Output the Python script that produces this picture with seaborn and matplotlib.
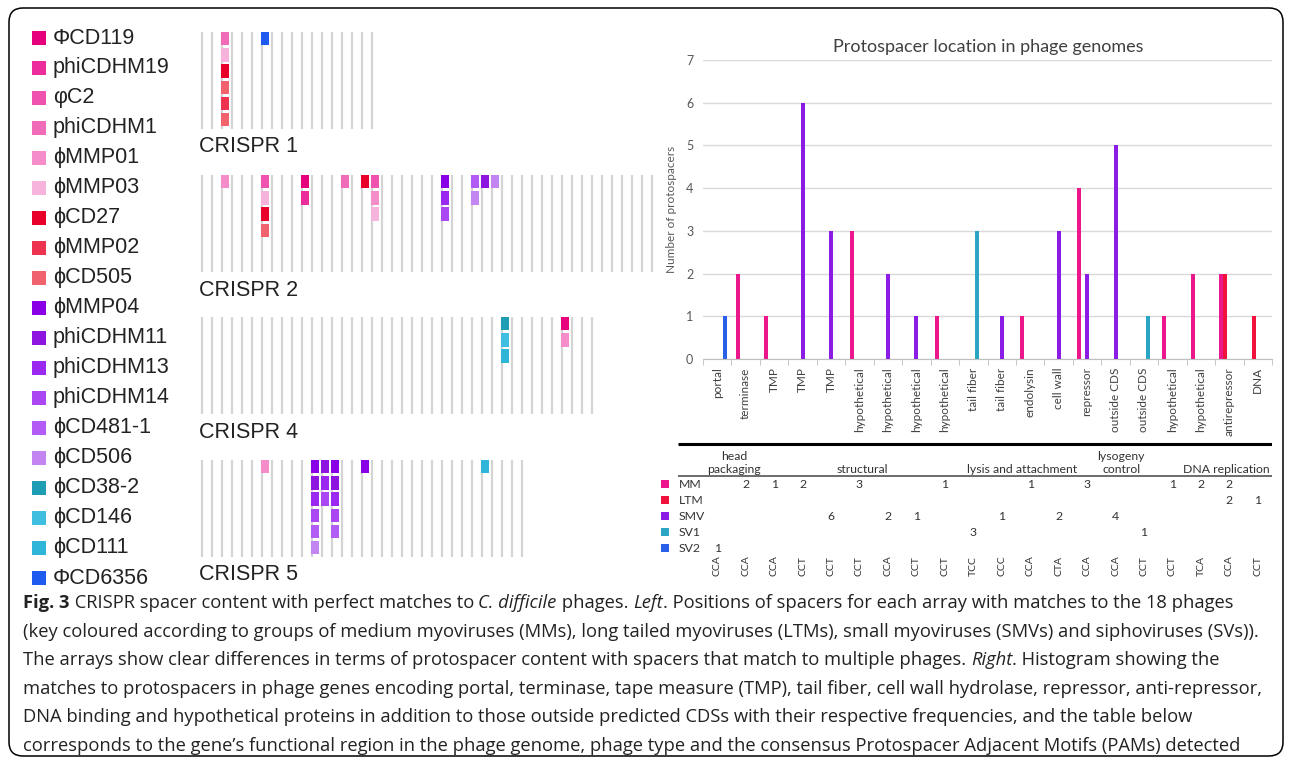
import numpy as np
import pandas as pd
import matplotlib
matplotlib.use("Agg")
import matplotlib.pyplot as plt
from matplotlib.patches import Rectangle, FancyBboxPatch
import seaborn as sns

# key: phages coloured by group (MM pinks, LTM reds, SMV purples, SV blues)
PHAGES = ["ΦCD119", "phiCDHM19", "φC2", "phiCDHM1", "ϕMMP01", "ϕMMP03", "ϕCD27",
          "ϕMMP02", "ϕCD505", "ϕMMP04", "phiCDHM11", "phiCDHM13", "phiCDHM14",
          "ϕCD481-1", "ϕCD506", "ϕCD38-2", "ϕCD146", "ϕCD111", "ΦCD6356"]
PHAGE_COLORS = ["#E6007E", "#EC2C9A", "#F052B0", "#F06BB8", "#F58DCB", "#F6B3DC", "#E8002A",
                "#EE3350", "#F0636E", "#8A00E6", "#8E14E0", "#9A28F0", "#AA46F2",
                "#B35CF5", "#C385F2", "#1E9DB5", "#3FBEDF", "#2FB5D8", "#1F5BEF"]

# CRISPR arrays: number of spacers, and matched spacers (index -> phages, top to bottom)
CRISPR_NAMES = ["CRISPR 1", "CRISPR 2", "CRISPR 4", "CRISPR 5"]
CRISPR_SPACERS = [18, 46, 40, 33]
CRISPR1_HITS = {2: ["phiCDHM1", "ϕMMP03", "ϕCD27", "ϕCD505", "ϕMMP02", "ϕCD505"],
                6: ["ΦCD6356"]}
CRISPR2_HITS = {2: ["ϕMMP01"],
                6: ["φC2", "ϕMMP03", "ϕCD27", "ϕCD505"],
                10: ["ΦCD119", "phiCDHM19"],
                14: ["phiCDHM1"],
                16: ["ϕCD27"],
                17: ["φC2", "ϕMMP01", "ϕMMP03"],
                24: ["ϕMMP04", "phiCDHM13", "phiCDHM14"],
                27: ["ϕCD481-1", "ϕCD506"],
                28: ["phiCDHM11"],
                29: ["ϕCD506"]}
CRISPR4_HITS = {30: ["ϕCD38-2", "ϕCD146", "ϕCD111"],
                36: ["ΦCD119", "ϕMMP01"]}
CRISPR5_HITS = {6: ["ϕMMP01"],
                11: ["ϕMMP04", "phiCDHM11", "phiCDHM13", "phiCDHM14", "ϕCD481-1", "ϕCD506"],
                12: ["phiCDHM11", "phiCDHM13", "phiCDHM14"],
                13: ["ϕMMP04", "phiCDHM11", "phiCDHM13", "phiCDHM14", "ϕCD481-1"],
                16: ["ϕMMP04"],
                28: ["ϕCD111"]}
CRISPR_HITS = [CRISPR1_HITS, CRISPR2_HITS, CRISPR4_HITS, CRISPR5_HITS]

# histogram of protospacer locations
GENES = ["portal", "terminase", "TMP", "TMP", "TMP", "hypothetical", "hypothetical",
         "hypothetical", "hypothetical", "tail fiber", "tail fiber", "endolysin", "cell wall",
         "repressor", "outside CDS", "outside CDS", "hypothetical", "hypothetical",
         "antirepressor", "DNA"]
GROUPS = ["MM", "LTM", "SMV", "SV1", "SV2"]
GROUP_COLORS = ["#EC178C", "#F0123C", "#8B1CE6", "#2AA6C4", "#2A60E8"]
BAR_GENE = [0, 1, 2, 3, 4, 5, 6, 7, 8, 9, 10, 11, 12, 13, 13, 14, 15, 16, 17, 18, 18, 19]
BAR_GROUP = ["SV2", "MM", "MM", "SMV", "SMV", "MM", "SMV", "SMV", "MM", "SV1", "SMV", "MM",
             "SMV", "MM", "SMV", "SMV", "SV1", "MM", "MM", "MM", "LTM", "LTM"]
BAR_COUNT = [1, 2, 1, 6, 3, 3, 2, 1, 1, 3, 1, 1, 3, 4, 2, 5, 1, 1, 2, 2, 2, 1]

# table under the histogram
REGIONS = ["head\npackaging", "structural", "lysis and attachment", "lysogeny\ncontrol",
           "DNA replication"]
REGION_AT = [0.6, 5.1, 10.7, 14.2, 17.9]
TABLE_MM = [(1, 2), (2, 1), (3, 2), (5, 3), (8, 1), (11, 1), (13, 3), (16, 1), (17, 2), (18, 2)]
TABLE_LTM = [(18, 2), (19, 1)]
TABLE_SMV = [(4, 6), (6, 2), (7, 1), (10, 1), (12, 2), (14, 4)]
TABLE_SV1 = [(9, 3), (15, 1)]
TABLE_SV2 = [(0, 1)]
TABLE_ROWS = [TABLE_MM, TABLE_LTM, TABLE_SMV, TABLE_SV1, TABLE_SV2]
PAMS = ["CCA", "CCA", "CCA", "CCT", "CCT", "CCT", "CCA", "CCT", "CCT", "TCC", "CCC", "CCA",
        "CTA", "CCA", "CCA", "CCT", "CCT", "TCA", "CCA", "CCT"]

CAPTION = [
    [("Fig. 3", "bold"), (" CRISPR spacer content with perfect matches to ", ""), ("C. difficile", "italic"),
     (" phages. ", ""), ("Left", "italic"),
     (". Positions of spacers for each array with matches to the 18 phages", "")],
    [("(key coloured according to groups of medium myoviruses (MMs), long tailed myoviruses (LTMs), "
      "small myoviruses (SMVs) and siphoviruses (SVs)).", "")],
    [("The arrays show clear differences in terms of protospacer content with spacers that match to "
      "multiple phages. ", ""), ("Right", "italic"), (". Histogram showing the", "")],
    [("matches to protospacers in phage genes encoding portal, terminase, tape measure (TMP), tail fiber, "
      "cell wall hydrolase, repressor, anti-repressor,", "")],
    [("DNA binding and hypothetical proteins in addition to those outside predicted CDSs with their "
      "respective frequencies, and the table below", "")],
    [("corresponds to the gene’s functional region in the phage genome, phage type and the consensus "
      "Protospacer Adjacent Motifs (PAMs) detected", "")],
]

sns.set_style("white")
plt.rcParams["font.family"] = ["Liberation Sans", "DejaVu Sans"]
CHART_FONT = ["Lato", "DejaVu Sans"]
CAP_FONT = ["Open Sans", "DejaVu Sans"]

W, H = 1290, 761
fig = plt.figure(figsize=(W / 100, H / 100), dpi=100)


def px_axes(left, top, width, height):
    ax = fig.add_axes([left / W, 1 - (top + height) / H, width / W, height / H])
    ax.patch.set_visible(False)
    return ax


# background layer in pixel units: frame and caption
bg = px_axes(0, 0, W, H)
bg.set_xlim(0, W)
bg.set_ylim(H, 0)
bg.axis("off")
bg.add_patch(FancyBboxPatch((9, 8), 1274, 748, boxstyle="round,pad=0,rounding_size=14",
                            fill=False, ec="black", lw=1.1))

# key
leg = px_axes(20, 23, 170, 570)
leg.set_xlim(20, 190)
leg.set_ylim(len(PHAGES) - 0.5, -0.5)
leg.axis("off")
for i, (name, col) in enumerate(zip(PHAGES, PHAGE_COLORS)):
    leg.add_patch(Rectangle((32, i - 0.24), 14, 0.48, color=col, lw=0))
    leg.text(53, i, name, va="center", ha="left", fontsize=15.5, color="#222222")

# CRISPR arrays
phage_color = dict(zip(PHAGES, PHAGE_COLORS))
tops = [32, 175, 317, 460]
for name, n, hits, top in zip(CRISPR_NAMES, CRISPR_SPACERS, CRISPR_HITS, tops):
    ax = px_axes(196.7, top, n * 10, 97)
    ax.set_xlim(-0.5, n - 0.5)
    ax.set_ylim(6, 0)
    ax.axis("off")
    ax.vlines(np.arange(n), 0, 6, color="#D4D4D4", lw=1.6)
    for pos, phs in hits.items():
        for r, ph in enumerate(phs):
            ax.add_patch(Rectangle((pos - 0.05, r + 0.01), 0.78, 0.82,
                                   color=phage_color[ph], lw=0, zorder=3))
    bg.text(199, top + 97 + 18, name, va="center", ha="left", fontsize=15.5, color="#222222")

# histogram
bars = pd.DataFrame({"gene": BAR_GENE, "group": BAR_GROUP, "count": BAR_COUNT})
full = pd.MultiIndex.from_product([range(len(GENES)), GROUPS], names=["gene", "group"])
df = bars.set_index(["gene", "group"]).reindex(full, fill_value=0).reset_index()

hist = px_axes(703, 60, 569, 299)
sns.barplot(data=df, x="gene", y="count", hue="group", order=list(range(len(GENES))),
            hue_order=GROUPS, palette=dict(zip(GROUPS, GROUP_COLORS)), width=0.7,
            dodge=True, errorbar=None, saturation=1, legend=False, linewidth=0, ax=hist)
hist.set_xlim(-0.5, len(GENES) - 0.5)
hist.set_ylim(0, 7)
hist.set_yticks(range(8))
hist.grid(axis="y", color="#D9D9D9", lw=1)
hist.grid(axis="x", visible=False)
hist.set_axisbelow(True)
for s in ["left", "top", "right"]:
    hist.spines[s].set_visible(False)
hist.spines["bottom"].set_color("#BFBFBF")
hist.set_xticks(range(len(GENES)))
hist.set_xticklabels(GENES, rotation=90, fontsize=8.5, color="#404040", family=CHART_FONT)
hist.set_xticks(np.arange(-0.5, len(GENES)), minor=True)
hist.tick_params(axis="x", which="major", length=0, pad=6)
hist.tick_params(axis="x", which="minor", length=4, color="#BFBFBF", bottom=True)
hist.tick_params(axis="y", length=0, pad=7, labelsize=9, labelcolor="#595959")
for t in hist.get_yticklabels():
    t.set_family(CHART_FONT)
hist.set_xlabel("")
hist.set_ylabel("Number of protospacers", fontsize=8.5, color="#595959", family=CHART_FONT)
hist.yaxis.set_label_coords(-0.046, 0.5)
bg.text(988, 47, "Protospacer location in phage genomes", ha="center", va="center",
        fontsize=13, color="#404040", family=CHART_FONT)

# table
pitch = 569 / len(GENES)


def cx(px):
    return -0.5 + (px - 703) / pitch


tbl = px_axes(655, 436, 617, 146)
tbl.set_xlim(cx(655), len(GENES) - 0.5)
tbl.set_ylim(582, 436)
tbl.axis("off")
tbl.plot([cx(678), len(GENES) - 0.5], [444, 444], color="black", lw=2.2, solid_capstyle="butt")
tbl.plot([cx(678), len(GENES) - 0.5], [476, 476], color="#444444", lw=1.1, solid_capstyle="butt")
for name, at in zip(REGIONS, REGION_AT):
    tbl.text(at, 475, name, ha="center", va="bottom", fontsize=8.8, color="#333333",
             linespacing=1.25, family=CHART_FONT)
for k, (g, col, row) in enumerate(zip(GROUPS, GROUP_COLORS, TABLE_ROWS)):
    y = 484 + 16 * k
    tbl.add_patch(Rectangle((cx(661), y - 4), 8 / pitch, 8, color=col, lw=0))
    tbl.text(cx(679), y, g, ha="left", va="center", fontsize=8.8, color="#333333", family=CHART_FONT)
    for c, v in row:
        tbl.text(c, y, str(v), ha="center", va="center", fontsize=8.8, color="#333333",
                 family=CHART_FONT)
for i, pam in enumerate(PAMS):
    tbl.text(i, 566, pam, rotation=90, ha="center", va="center", fontsize=7.5, color="#333333",
             family=CHART_FONT)

# caption, drawn piece by piece so bold / italic runs line up
renderer = fig.canvas.get_renderer()


def run_width(s, size, style):
    kw = dict(fontsize=size, family=CAP_FONT,
              fontweight="bold" if style == "bold" else "normal",
              fontstyle="italic" if style == "italic" else "normal")
    a = bg.text(0, 0, "|" + s + "|", **kw)
    b = bg.text(0, 0, "||", **kw)
    w = a.get_window_extent(renderer).width - b.get_window_extent(renderer).width
    a.remove()
    b.remove()
    return w, kw


widest = max(sum(run_width(s, 11.5, st)[0] for s, st in line) for line in CAPTION)
cap_size = 11.5 * 1240 / widest
for k, line in enumerate(CAPTION):
    x = 23
    y = 603 + 28.6 * k
    for s, st in line:
        w, kw = run_width(s, cap_size, st)
        bg.text(x, y, s, va="center", ha="left", color="#222222", **kw)
        x += w

fig.savefig("out.png", dpi=100)
